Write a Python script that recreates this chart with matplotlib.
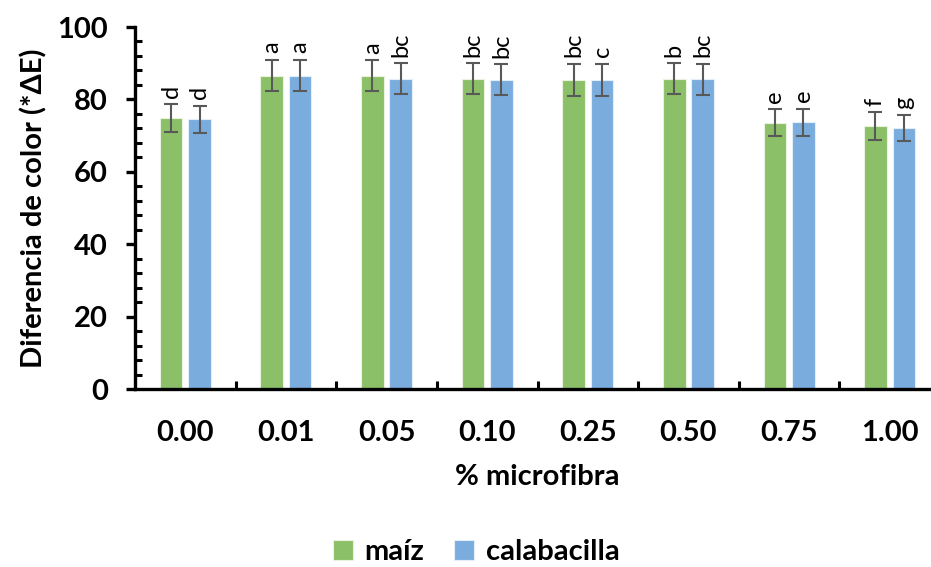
import numpy as np
import matplotlib
matplotlib.use("Agg")
import matplotlib.pyplot as plt
from matplotlib.ticker import MultipleLocator, FixedLocator

plt.rcParams['font.family'] = ['Lato', 'DejaVu Sans']

categories = ['0.00', '0.01', '0.05', '0.10', '0.25', '0.50', '0.75', '1.00']
maiz = [74.8, 86.6, 86.5, 85.7, 85.4, 85.7, 73.6, 72.6]
maiz_err = [3.8, 4.3, 4.3, 4.3, 4.4, 4.3, 3.7, 3.8]
calab = [74.5, 86.6, 85.7, 85.4, 85.4, 85.6, 73.7, 72.0]
calab_err = [3.7, 4.3, 4.3, 4.3, 4.4, 4.3, 3.7, 3.6]
letters_maiz = ['d', 'a', 'a', 'bc', 'bc', 'b', 'e', 'f']
letters_calab = ['d', 'a', 'bc', 'bc', 'c', 'bc', 'e', 'g']

green = '#8cc068'
blue = '#7aadde'
err_col = '#595959'

fig = plt.figure(figsize=(9.31, 5.67), dpi=100)
ax = fig.add_axes([135 / 931, 1 - 389 / 567, 805 / 931, 362 / 567])

x = np.arange(len(categories))
w = 0.225
off = 0.141
ax.bar(x - off, maiz, w, color=green, edgecolor='#e8f2df', linewidth=0.8, label='maíz', zorder=2)
ax.bar(x + off, calab, w, color=blue, edgecolor='#e3eef8', linewidth=0.8, label='calabacilla', zorder=2)
ax.errorbar(x - off, maiz, yerr=maiz_err, fmt='none', ecolor=err_col, elinewidth=1.5, capsize=5, capthick=1.5, zorder=3)
ax.errorbar(x + off, calab, yerr=calab_err, fmt='none', ecolor=err_col, elinewidth=1.5, capsize=5, capthick=1.5, zorder=3)

# letras de significancia sobre las barras
for i in range(len(categories)):
    ax.text(x[i] - off, maiz[i] + maiz_err[i] + 1.8, letters_maiz[i], rotation=90,
            ha='center', va='bottom', fontsize=17)
    ax.text(x[i] + off, calab[i] + calab_err[i] + 1.8, letters_calab[i], rotation=90,
            ha='center', va='bottom', fontsize=17)

ax.set_xlim(-0.5, len(categories) - 0.5)
ax.set_ylim(0, 100)

ax.spines['top'].set_visible(False)
ax.spines['right'].set_visible(False)
ax.spines['left'].set_linewidth(2.4)
ax.spines['bottom'].set_linewidth(2.4)

ax.yaxis.set_major_locator(MultipleLocator(20))
ax.yaxis.set_minor_locator(MultipleLocator(4))
ax.tick_params(axis='y', which='major', direction='out', length=6.5, width=2.4, pad=13, labelsize=21)
ax.tick_params(axis='y', which='minor', direction='in', length=5, width=2.2)
for lab in ax.get_yticklabels():
    lab.set_fontweight('bold')

ax.xaxis.set_major_locator(FixedLocator(np.arange(0.5, len(categories) - 0.5, 1)))
ax.xaxis.set_major_formatter(plt.NullFormatter())
ax.xaxis.set_minor_locator(FixedLocator(x))
ax.set_xticklabels(categories, minor=True, fontsize=21, fontweight='bold')
ax.tick_params(axis='x', which='major', direction='in', length=6, width=2.2)
ax.tick_params(axis='x', which='minor', length=0, pad=22)

ax.set_ylabel('Diferencia de color (*ΔE)', fontsize=21, fontweight='bold', labelpad=7)
ax.set_xlabel('% microfibra', fontsize=21, fontweight='bold', labelpad=13)

leg = fig.legend(loc='center', bbox_to_anchor=(476 / 931, 1 - 552 / 567), ncol=2, frameon=False,
                 fontsize=21, handlelength=0.7, handleheight=0.7, handletextpad=0.4, columnspacing=1.0)
for t in leg.get_texts():
    t.set_fontweight('bold')

fig.savefig('out.png', dpi=100)
